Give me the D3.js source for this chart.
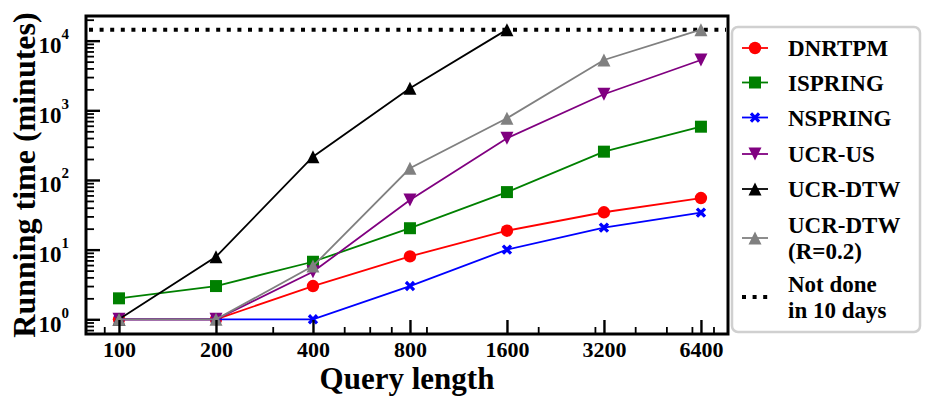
<!DOCTYPE html>
<html>
<head>
<meta charset="utf-8">
<script src="https://cdn.jsdelivr.net/npm/d3@7"></script>
<style>
  html, body { margin: 0; padding: 0; background: #fff; }
  svg { display: block; }
  text { font-family: "Liberation Serif", "Times New Roman", serif; font-weight: bold; fill: #000; }
</style>
</head>
<body>
<svg id="chart" width="925" height="399"></svg>
<script>
// ---- data ----
const queryLengths = [100, 200, 400, 800, 1600, 3200, 6400];
const dnrtpm   = [1, 1, 3, 8, 18.7, 34.4, 55];
const ispring  = [2, 3, 6.7, 20.3, 67, 255, 582];
const nspring  = [1, 1, 1, 3, 10, 20.7, 34];
const ucrUS    = [1, 1, 4.8, 51.6, 397, 1700, 5280];
const ucrDTW   = [1, 7.9, 216, 2074, 14400];
const ucrDTW02 = [1, 1, 5.8, 147, 769, 5280, 14400];
const notDoneLimit = 14400;
const xTickLabels = ["100", "200", "400", "800", "1600", "3200", "6400"];
const yTickExponents = [0, 1, 2, 3, 4];
const seriesNames = ["DNRTPM", "ISPRING", "NSPRING", "UCR-US", "UCR-DTW", "UCR-DTW|(R=0.2)"];
const notDoneLabel = ["Not done", "in 10 days"];

const seriesList = [
  { name: seriesNames[0], values: dnrtpm,   color: "#ff0000", marker: "circle" },
  { name: seriesNames[1], values: ispring,  color: "#008000", marker: "square" },
  { name: seriesNames[2], values: nspring,  color: "#0000ff", marker: "x" },
  { name: seriesNames[3], values: ucrUS,    color: "#800080", marker: "tridown" },
  { name: seriesNames[4], values: ucrDTW,   color: "#000000", marker: "triup" },
  { name: seriesNames[5], values: ucrDTW02, color: "#808080", marker: "triup" }
];

const svg = d3.select("#chart");
const L = 86, R = 728, T = 16, B = 334;

const x = d3.scaleLog().domain([79, 7765]).range([L, R]);
const y = d3.scaleLog().domain([0.615, 22600]).range([B, T]);

// marker paths
function markerPath(type) {
  switch (type) {
    case "circle": return d3.symbol(d3.symbolCircle, Math.PI * 6.2 * 6.2)();
    case "square": return "M-6,-6H6V6H-6Z";
    case "triup":  return "M0,-6.5L6.5,6.5L-6.5,6.5Z";
    case "tridown":return "M0,6.5L6.5,-6.5L-6.5,-6.5Z";
    case "x": {
      const a = 5.2, w = 2.3;
      return `M${-a},${-a+w}L${-a+w},${-a}L0,${-w}L${a-w},${-a}L${a},${-a+w}L${w},0L${a},${a-w}L${a-w},${a}L0,${w}L${-a+w},${a}L${-a},${a-w}L${-w},0Z`;
    }
  }
}

// ---- dotted "not done" line ----
svg.append("line")
  .attr("x1", L + 3).attr("x2", R - 2)
  .attr("y1", y(notDoneLimit)).attr("y2", y(notDoneLimit))
  .attr("stroke", "#000").attr("stroke-width", 4)
  .attr("stroke-dasharray", "4,6.6");

// ---- series ----
const line = d3.line().x(d => x(d[0])).y(d => y(d[1]));
seriesList.forEach(s => {
  const pts = s.values.map((v, i) => [queryLengths[i], v]);
  const g = svg.append("g");
  g.append("path").attr("d", line(pts))
    .attr("fill", "none").attr("stroke", s.color).attr("stroke-width", 1.8);
  g.selectAll("path.m").data(pts).enter().append("path")
    .attr("class", "m")
    .attr("d", markerPath(s.marker))
    .attr("transform", d => `translate(${x(d[0])},${y(d[1])})`)
    .attr("fill", s.color);
});

// ---- axes ----
const xMinor = [90, 300, 500, 600, 700, 900, 2000, 3000, 4000, 5000, 6000, 7000];
const yMinor = [];
for (let e = -1; e <= 4; e++) for (let m = 2; m <= 9; m++) {
  const v = m * Math.pow(10, e);
  if (v >= 0.62 && v <= 22000) yMinor.push(v);
}

const gxMinor = svg.append("g").attr("transform", `translate(0,${B})`)
  .call(d3.axisBottom(x).tickValues(xMinor).tickSize(-7).tickFormat(""));
const gx = svg.append("g").attr("transform", `translate(0,${B})`)
  .call(d3.axisBottom(x).tickValues(queryLengths).tickSize(-14).tickPadding(7)
        .tickFormat((d, i) => xTickLabels[i]));
const gyMinor = svg.append("g").attr("transform", `translate(${L},0)`)
  .call(d3.axisLeft(y).tickValues(yMinor).tickSize(-8).tickFormat(""));
const gy = svg.append("g").attr("transform", `translate(${L},0)`)
  .call(d3.axisLeft(y).tickValues(yTickExponents.map(e => Math.pow(10, e))).tickSize(-14).tickFormat(""));

[gx, gxMinor, gy, gyMinor].forEach(g => g.select(".domain").remove());
gx.selectAll(".tick line").attr("stroke", "#000").attr("stroke-width", 2.4);
gy.selectAll(".tick line").attr("stroke", "#000").attr("stroke-width", 2.4);
gxMinor.selectAll(".tick line").attr("stroke", "#000").attr("stroke-width", 1.8);
gyMinor.selectAll(".tick line").attr("stroke", "#000").attr("stroke-width", 1.8);
gx.selectAll(".tick text")
  .style("font-family", '"Liberation Serif", serif').style("font-weight", "bold")
  .style("font-size", "22px").attr("fill", "#000");

// y tick labels 10^n
yTickExponents.forEach(e => {
  const t = svg.append("text")
    .attr("x", L - 17).attr("y", y(Math.pow(10, e)) + 12.5)
    .attr("text-anchor", "end")
    .style("font-size", "23px");
  t.append("tspan").text("10");
  t.append("tspan").text(String(e)).attr("dy", -14).style("font-size", "15px");
});

// frame
svg.append("rect").attr("x", L).attr("y", T).attr("width", R - L).attr("height", B - T)
  .attr("fill", "none").attr("stroke", "#000").attr("stroke-width", 3);

// axis titles
svg.append("text").attr("x", (L + R) / 2).attr("y", 389).attr("text-anchor", "middle")
  .style("font-size", "31px").text("Query length");
svg.append("text").attr("transform", `translate(35,${(T + B) / 2}) rotate(-90)`)
  .attr("text-anchor", "middle").style("font-size", "32px").text("Running time (minutes)");

// ---- legend ----
const lg = svg.append("g");
lg.append("rect").attr("x", 732).attr("y", 27).attr("width", 188).attr("height", 305)
  .attr("rx", 6).attr("fill", "#fff").attr("stroke", "#d0d0d0").attr("stroke-width", 2.5);

const rowY = [48, 82.5, 117.5, 154, 189, 238];
seriesList.forEach((s, i) => {
  const cy = rowY[i];
  lg.append("line").attr("x1", 742).attr("x2", 768).attr("y1", cy).attr("y2", cy)
    .attr("stroke", s.color).attr("stroke-width", 1.8);
  lg.append("path").attr("d", markerPath(s.marker))
    .attr("transform", `translate(755,${cy})`).attr("fill", s.color);
  const lines = s.name.split("|");
  const t = lg.append("text").attr("x", 788).style("font-size", "23px");
  const y0 = cy + 8 - (lines.length - 1) * 12.8;
  lines.forEach((ln, k) => {
    t.append("tspan").attr("x", 788).attr("y", y0 + k * 25.5).text(ln);
  });
});
// dotted handle
lg.append("line").attr("x1", 742).attr("x2", 770).attr("y1", 297).attr("y2", 297)
  .attr("stroke", "#000").attr("stroke-width", 4).attr("stroke-dasharray", "4,6.6");
const nt = lg.append("text").style("font-size", "23px");
notDoneLabel.forEach((ln, k) => {
  nt.append("tspan").attr("x", 788).attr("y", 292 + k * 25.5).text(ln);
});
</script>
</body>
</html>
